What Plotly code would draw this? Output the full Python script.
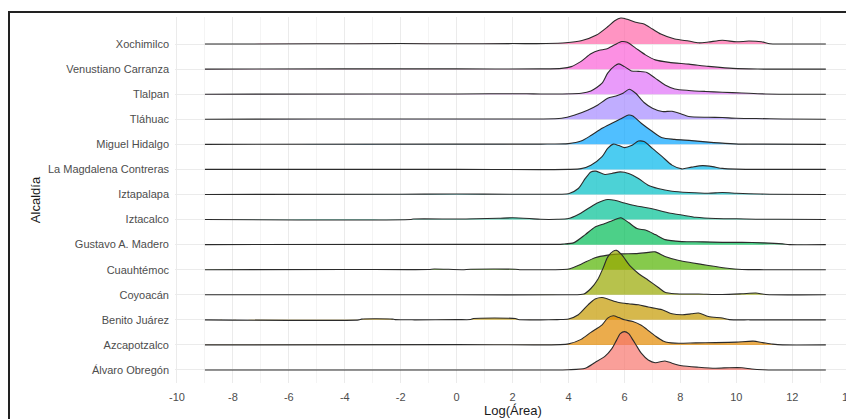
import plotly.graph_objects as go

# Categories from bottom to top
alcaldias = ["Álvaro Obregón", "Azcapotzalco", "Benito Juárez", "Coyoacán", "Cuauhtémoc",
             "Gustavo A. Madero", "Iztacalco", "Iztapalapa", "La Magdalena Contreras",
             "Miguel Hidalgo", "Tláhuac", "Tlalpan", "Venustiano Carranza", "Xochimilco"]

colors = ["#F8766D", "#E38900", "#C49A00", "#99A800", "#53B400", "#00BC56", "#00C094",
          "#00BFC4", "#00B6EB", "#06A4FF", "#A58AFF", "#DF70F8", "#FB61D7", "#FF66A8"]

# Density heights (in units of row spacing)
ao_x = [-9, 0, 4, 4.6, 4.95, 5.3, 5.55, 5.7, 5.85, 6.0, 6.15, 6.3, 6.45, 6.6, 6.85, 7.1, 7.45, 7.7, 8.05, 8.65, 9.25, 9.75, 10.2, 10.55, 10.95, 11.5, 13.2]
ao_h = [0, 0, 0.01, 0.07, 0.3, 0.54, 0.85, 1.15, 1.45, 1.53, 1.45, 1.2, 0.93, 0.67, 0.4, 0.29, 0.36, 0.27, 0.17, 0.11, 0.07, 0.09, 0.09, 0.04, 0.01, 0, 0]

azc_x = [-9, 0, 3.7, 4, 4.45, 4.8, 5.2, 5.4, 5.6, 5.8, 6.0, 6.3, 6.6, 6.8, 7.1, 7.4, 7.8, 8.55, 9.25, 10.0, 10.6, 10.95, 11.3, 11.65, 13.2]
azc_h = [0, 0.01, 0.01, 0.04, 0.22, 0.5, 0.8, 1.07, 1.16, 1.09, 1.0, 0.93, 0.78, 0.62, 0.36, 0.15, 0.07, 0.08, 0.09, 0.11, 0.15, 0.09, 0.03, 0, 0]

bj_x = [-9, -3.5, -3.4, -2.3, -2.2, -1.5, 0, 0.5, 0.6, 2.1, 2.2, 3, 3.6, 4, 4.35, 4.7, 4.95, 5.2, 5.4, 5.8, 6.15, 6.5, 6.85, 7.35, 7.7, 8.05, 8.4, 8.65, 9, 9.5, 9.75, 10.5, 13.2]
bj_h = [0, 0, 0.03, 0.03, 0.01, 0, 0.01, 0.01, 0.05, 0.05, 0.01, 0.0, 0.01, 0.03, 0.2, 0.6, 0.83, 0.89, 0.83, 0.69, 0.64, 0.6, 0.51, 0.4, 0.24, 0.2, 0.24, 0.27, 0.13, 0.07, 0.01, 0, 0]

coy_x = [-9, 0, 4, 4.55, 4.8, 5.05, 5.25, 5.4, 5.6, 5.72, 5.9, 6.2, 6.5, 6.85, 7.2, 7.45, 7.8, 8.65, 9.5, 10.2, 10.7, 11.05, 13.2]
coy_h = [0, 0, 0, 0.03, 0.25, 0.62, 1.1, 1.5, 1.74, 1.77, 1.6, 1.15, 0.85, 0.58, 0.3, 0.1, 0.04, 0.03, 0.01, 0.04, 0.07, 0.01, 0]

cua_x = [-9, -4, -1, -0.8, 0.2, 0.5, 2.1, 2.3, 3.8, 4.05, 4.45, 4.95, 5.4, 5.9, 6.4, 6.85, 7.1, 7.45, 7.95, 8.4, 9, 9.6, 10.2, 11, 13.2]
cua_h = [0, 0.01, 0.01, 0.03, 0.0, 0.02, 0.02, 0.0, 0.01, 0.04, 0.22, 0.48, 0.58, 0.63, 0.64, 0.69, 0.71, 0.53, 0.37, 0.28, 0.17, 0.07, 0.01, 0, 0]

gam_x = [-9, 0, 3.5, 3.8, 4.2, 4.6, 4.95, 5.3, 5.6, 5.87, 6.15, 6.45, 6.75, 7.1, 7.45, 8.05, 8.8, 9.5, 10.2, 10.95, 11.65, 11.9, 13.2]
gam_h = [0, 0.01, 0.01, 0.02, 0.08, 0.4, 0.7, 0.84, 0.97, 1.07, 0.88, 0.64, 0.58, 0.4, 0.2, 0.12, 0.11, 0.09, 0.09, 0.07, 0.03, 0, 0]

izc_x = [-9, -1.65, -1.55, 0, 0.7, 1.5, 2.0, 2.6, 3.0, 3.6, 4, 4.35, 4.7, 5.05, 5.4, 5.65, 6, 6.4, 6.75, 7.1, 7.6, 8.05, 8.55, 9.25, 10, 10.7, 11.5, 13.2]
izc_h = [0, 0, 0.02, 0.02, 0.03, 0.05, 0.07, 0.04, 0.01, 0.01, 0.04, 0.2, 0.44, 0.67, 0.8, 0.77, 0.66, 0.55, 0.48, 0.4, 0.26, 0.18, 0.09, 0.04, 0.03, 0.01, 0.01, 0]

izp_x = [-9, -2, 0, 2, 3, 3.7, 4, 4.35, 4.6, 4.8, 4.98, 5.3, 5.55, 5.85, 6.15, 6.5, 6.85, 7.2, 7.7, 8.3, 9, 9.5, 10, 10.45, 11.2, 13.2]
izp_h = [0, 0.01, 0.02, 0.01, 0.01, 0.01, 0.03, 0.24, 0.64, 0.9, 0.93, 0.8, 0.84, 0.9, 0.84, 0.64, 0.37, 0.24, 0.13, 0.08, 0.05, 0.08, 0.05, 0.03, 0.01, 0]

lmc_x = [-9, 0, 4, 4.45, 4.8, 5.2, 5.4, 5.6, 5.8, 6.0, 6.25, 6.5, 6.7, 7.0, 7.35, 7.7, 8.05, 8.4, 8.8, 9.15, 9.5, 10, 11, 13.2]
lmc_h = [0, 0, 0, 0.03, 0.17, 0.51, 0.84, 1.01, 0.95, 0.87, 0.95, 1.13, 1.11, 0.84, 0.51, 0.17, 0.02, 0.09, 0.15, 0.11, 0.04, 0.01, 0, 0]

mh_x = [-9, 0, 3, 4, 4.45, 4.8, 5.2, 5.55, 5.85, 6.15, 6.3, 6.6, 7, 7.35, 7.8, 8.4, 9, 9.6, 10.2, 11, 13.2]
mh_h = [0, 0.01, 0.01, 0.03, 0.13, 0.35, 0.64, 0.84, 1.01, 1.17, 1.13, 0.84, 0.51, 0.26, 0.2, 0.15, 0.09, 0.04, 0.01, 0.01, 0]

tlh_x = [-9, -5, 0, 2, 3, 3.75, 4.2, 4.7, 5.05, 5.4, 5.7, 5.95, 6.17, 6.4, 6.7, 7, 7.35, 7.7, 7.95, 8.3, 9, 9.5, 10, 10.7, 11.65, 13.2]
tlh_h = [0, 0.01, 0.01, 0.01, 0.01, 0.04, 0.16, 0.37, 0.57, 0.84, 0.93, 1.04, 1.2, 1.04, 0.67, 0.44, 0.31, 0.32, 0.24, 0.11, 0.08, 0.07, 0.04, 0.03, 0.01, 0]

tlp_x = [-9, -3, 0, 2.5, 3, 4.45, 4.8, 5.2, 5.4, 5.65, 5.8, 6.0, 6.25, 6.5, 6.8, 7.1, 7.45, 7.8, 8.3, 8.9, 9.5, 10.2, 11.05, 13.2]
tlp_h = [0, 0.01, 0.01, 0.02, 0.01, 0.04, 0.13, 0.44, 0.84, 1.13, 1.21, 1.1, 0.93, 0.91, 0.87, 0.64, 0.37, 0.21, 0.15, 0.11, 0.08, 0.05, 0.01, 0]

vc_x = [-9, -4, 0, 3, 3.75, 4.1, 4.45, 4.8, 5.1, 5.35, 5.65, 5.9, 6.1, 6.4, 6.75, 7.1, 7.6, 8.3, 9, 9.75, 10.45, 11, 13.2]
vc_h = [0, 0.01, 0.01, 0.01, 0.03, 0.1, 0.31, 0.61, 0.75, 0.8, 0.97, 1.1, 1.07, 0.84, 0.57, 0.37, 0.27, 0.2, 0.11, 0.04, 0.01, 0, 0]

xoc_x = [-9, -5, -2, 0, 2, 3.2, 3.9, 4.45, 5, 5.4, 5.65, 5.87, 6.1, 6.4, 6.7, 7.0, 7.3, 7.8, 8.3, 8.65, 9, 9.5, 10, 10.45, 10.9, 11.2, 11.6, 13.2]
xoc_h = [0, 0.01, 0.02, 0.01, 0.02, 0.02, 0.05, 0.13, 0.36, 0.69, 0.93, 1.04, 0.99, 0.87, 0.8, 0.6, 0.4, 0.2, 0.12, 0.05, 0.08, 0.15, 0.09, 0.12, 0.09, 0.01, 0, 0]

series_x = [ao_x, azc_x, bj_x, coy_x, cua_x, gam_x, izc_x, izp_x, lmc_x, mh_x, tlh_x, tlp_x, vc_x, xoc_x]
series_h = [ao_h, azc_h, bj_h, coy_h, cua_h, gam_h, izc_h, izp_h, lmc_h, mh_h, tlh_h, tlp_h, vc_h, xoc_h]

x_ticks = list(range(-10, 15, 2))


def rgba(hx, a):
    hx = hx.lstrip("#")
    r, g, b = int(hx[0:2], 16), int(hx[2:4], 16), int(hx[4:6], 16)
    return f"rgba({r},{g},{b},{a})"


fig = go.Figure()
# draw from top row to bottom row so lower ridges overlap upper ones
for i in reversed(range(len(alcaldias))):
    xs = series_x[i]
    ys = [i + h for h in series_h[i]]
    fig.add_trace(go.Scatter(
        x=xs + [xs[-1], xs[0]], y=ys + [i, i], mode="lines",
        fill="toself", fillcolor=rgba(colors[i], 0.7),
        line=dict(width=0, shape="spline", smoothing=0.7),
        hoverinfo="skip", showlegend=False))
    fig.add_trace(go.Scatter(
        x=xs, y=ys, mode="lines",
        line=dict(color="#2b2b2b", width=1.1, shape="spline", smoothing=0.7),
        name=alcaldias[i], showlegend=False))

# page body has an 8px margin, so the figure itself is 8px smaller
OFF = 8
W, H = 854 - OFF, 419 - OFF
L, R, T, B = 175 - OFF, 3, 17 - OFF, 36
pw, ph = W - L - R, H - T - B


def px2paper_x(p):
    return (p - OFF - L) / pw


def py2paper_y(p):
    return (H - B - (p - OFF)) / ph


fig.update_layout(
    width=W, height=H,
    margin=dict(l=L, r=R, t=T, b=B, autoexpand=False),
    paper_bgcolor="white", plot_bgcolor="white",
    font=dict(family="Liberation Sans, Arial, sans-serif", color="#4d4d4d", size=11),
    xaxis=dict(
        range=[-10.07, 14.1], tickvals=x_ticks, ticktext=[str(v) for v in x_ticks],
        showgrid=True, gridcolor="#ebebeb", gridwidth=1, zeroline=False,
        showline=False, ticks="", ticklabelstandoff=6, ticklabeloverflow="allow",
        minor=dict(dtick=1, tick0=0, showgrid=True, gridcolor="#f4f4f4", gridwidth=1),
        title=dict(text="Log(Área)", font=dict(size=13, color="#1a1a1a"), standoff=2),
        tickfont=dict(size=11, color="#4d4d4d"),
    ),
    yaxis=dict(
        range=[-0.52, 14.08], tickvals=list(range(len(alcaldias))), ticktext=alcaldias,
        showgrid=True, gridcolor="#ebebeb", gridwidth=1, zeroline=False,
        showline=False, ticks="", ticklabelstandoff=5,
        title=dict(text="Alcaldía", font=dict(size=13, color="#1a1a1a"), standoff=4),
        tickfont=dict(size=11, color="#4d4d4d"),
    ),
    shapes=[
        dict(type="line", xref="paper", yref="paper",
             x0=px2paper_x(9), x1=px2paper_x(9), y0=py2paper_y(11), y1=py2paper_y(425),
             line=dict(color="#222222", width=2)),
        dict(type="line", xref="paper", yref="paper",
             x0=px2paper_x(8), x1=px2paper_x(860), y0=py2paper_y(12), y1=py2paper_y(12),
             line=dict(color="#222222", width=2)),
    ],
)

fig.write_html("out.html")
